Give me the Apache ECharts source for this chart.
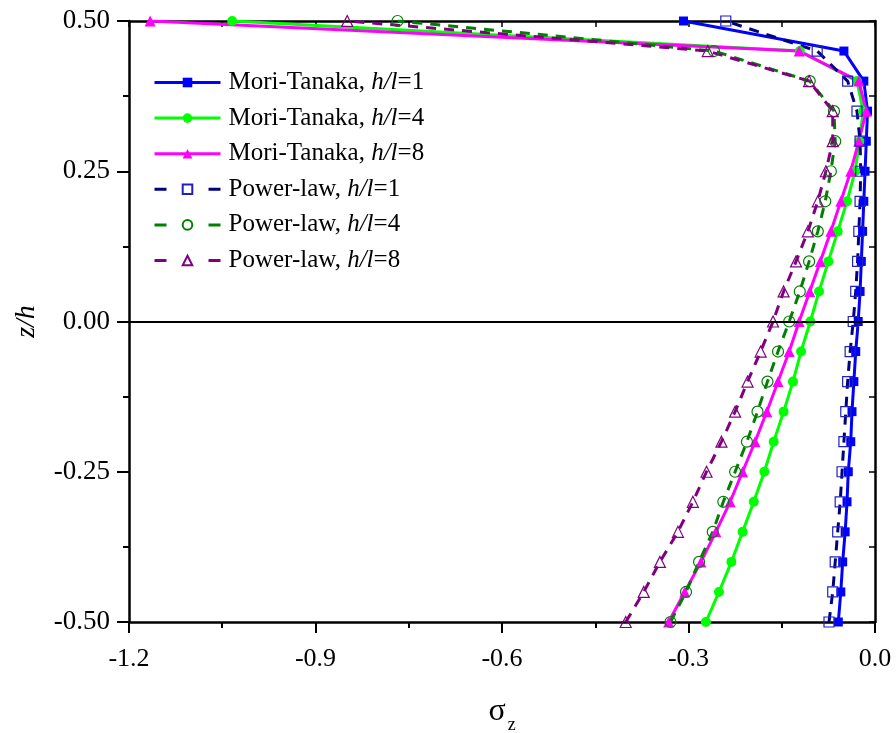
<!DOCTYPE html>
<html>
<head>
<meta charset="utf-8">
<script src="https://cdn.jsdelivr.net/npm/echarts@6/dist/echarts.min.js"></script>
<style>
  html, body { margin: 0; padding: 0; background: #fff; }
  #chart { width: 896px; height: 733px; }
</style>
</head>
<body>
<div id="chart"></div>
<script>
// z/h positions through the thickness
var zh = [-0.50, -0.45, -0.40, -0.35, -0.30, -0.25, -0.20, -0.15, -0.10, -0.05, 0.00,
          0.05, 0.10, 0.15, 0.20, 0.25, 0.30, 0.35, 0.40, 0.45, 0.50];

// sigma_z values
var mt1 = [-0.059, -0.055, -0.052, -0.048, -0.045, -0.043, -0.039, -0.037, -0.034, -0.031, -0.027,
           -0.024, -0.022, -0.020, -0.018, -0.016, -0.014, -0.012, -0.018, -0.050, -0.308];
var mt4 = [-0.272, -0.251, -0.231, -0.213, -0.195, -0.178, -0.163, -0.147, -0.132, -0.119, -0.104,
           -0.090, -0.075, -0.060, -0.045, -0.032, -0.025, -0.019, -0.029, -0.121, -1.034];
var mt8 = [-0.332, -0.306, -0.280, -0.256, -0.233, -0.213, -0.193, -0.174, -0.156, -0.138, -0.122,
           -0.105, -0.088, -0.071, -0.055, -0.039, -0.026, -0.014, -0.026, -0.122, -1.166];
var pl1 = [-0.074, -0.068, -0.064, -0.060, -0.056, -0.053, -0.050, -0.047, -0.044, -0.040, -0.035,
           -0.031, -0.028, -0.026, -0.024, -0.023, -0.024, -0.029, -0.044, -0.093, -0.240];
var pl4 = [-0.329, -0.304, -0.283, -0.261, -0.244, -0.225, -0.206, -0.189, -0.173, -0.156, -0.138,
           -0.121, -0.106, -0.092, -0.080, -0.071, -0.064, -0.066, -0.105, -0.259, -0.768];
var pl8 = [-0.401, -0.372, -0.346, -0.317, -0.293, -0.271, -0.247, -0.225, -0.205, -0.184, -0.164,
           -0.147, -0.127, -0.108, -0.092, -0.079, -0.068, -0.068, -0.106, -0.269, -0.849];

var names = ['Mori-Tanaka, h/l=1', 'Mori-Tanaka, h/l=4', 'Mori-Tanaka, h/l=8',
             'Power-law, h/l=1', 'Power-law, h/l=4', 'Power-law, h/l=8'];

var font = 'Liberation Serif';

function pairs(xs) {
  return xs.map(function (x, i) { return [x, zh[i]]; });
}

function solid(name, xs, color, symbol, size) {
  return {
    name: name, type: 'line', data: pairs(xs),
    symbol: symbol, symbolSize: size,
    lineStyle: { color: color, width: 3 },
    itemStyle: { color: color },
    animation: false
  };
}

function dashed(name, xs, color, markColor, symbol, size) {
  return {
    name: name, type: 'line', data: pairs(xs),
    symbol: symbol, symbolSize: size,
    lineStyle: { color: color, width: 3, type: [10, 8] },
    itemStyle: { color: 'rgba(255,255,255,0)', borderColor: markColor, borderWidth: 1.2 },
    animation: false
  };
}

var series = [
  solid(names[0], mt1, '#0000ff', 'rect', 9),
  solid(names[1], mt4, '#00ff00', 'circle', 10),
  solid(names[2], mt8, '#ff00ff', 'triangle', 11),
  dashed(names[3], pl1, '#000080', '#2020c0', 'rect', 10),
  dashed(names[4], pl4, '#008000', '#008000', 'circle', 11),
  dashed(names[5], pl8, '#800080', '#800080', 'triangle', 11)
];

// horizontal line at z/h = 0
series[0].markLine = {
  silent: true, symbol: 'none', label: { show: false },
  lineStyle: { color: '#000', width: 2, type: 'solid' },
  data: [{ yAxis: 0 }]
};

var chart = echarts.init(document.getElementById('chart'));

var mainX = {
  type: 'value', min: -1.2, max: 0, interval: 0.3, position: 'bottom',
  name: '{s|σ}{b|z}', nameLocation: 'middle', nameGap: 74,
  nameTextStyle: {
    rich: {
      s: { fontFamily: font, fontSize: 32, lineHeight: 34, verticalAlign: 'top', color: '#000' },
      b: { fontFamily: font, fontSize: 18, lineHeight: 18, verticalAlign: 'top', padding: [20, 0, 0, 2], color: '#000' }
    }
  },
  axisLine: { onZero: false, lineStyle: { color: '#000', width: 2.5 } },
  axisTick: { length: 11, lineStyle: { color: '#000', width: 2 } },
  minorTick: { show: true, splitNumber: 2, length: 6, lineStyle: { color: '#000', width: 2 } },
  axisLabel: {
    margin: 24, color: '#000', fontFamily: font, fontSize: 26,
    formatter: function (v) { return v.toFixed(1); }
  },
  splitLine: { show: false }
};

var topX = {
  type: 'value', min: -1.2, max: 0, interval: 0.3, position: 'top',
  axisLine: { onZero: false, lineStyle: { color: '#000', width: 2.5 } },
  axisTick: { inside: true, length: 6, lineStyle: { color: '#000', width: 1.5 } },
  minorTick: { show: true, splitNumber: 2, length: 6, lineStyle: { color: '#000', width: 1.5 } },
  axisLabel: { show: false },
  splitLine: { show: false }
};

var mainY = {
  type: 'value', min: -0.5, max: 0.5, interval: 0.25, position: 'left',
  name: 'z/h', nameLocation: 'middle', nameGap: 88,
  nameTextStyle: { fontFamily: font, fontSize: 28, fontStyle: 'italic', color: '#000' },
  axisLine: { onZero: false, lineStyle: { color: '#000', width: 2.5 } },
  axisTick: { length: 12, lineStyle: { color: '#000', width: 2 } },
  minorTick: { show: true, splitNumber: 2, length: 6, lineStyle: { color: '#000', width: 2 } },
  axisLabel: {
    margin: 19, color: '#000', fontFamily: font, fontSize: 27,
    formatter: function (v) { return v.toFixed(2); }
  },
  splitLine: { show: false }
};

var rightY = {
  type: 'value', min: -0.5, max: 0.5, interval: 0.25, position: 'right',
  axisLine: { onZero: false, lineStyle: { color: '#000', width: 2.5 } },
  axisTick: { inside: true, length: 6, lineStyle: { color: '#000', width: 1.5 } },
  minorTick: { show: true, splitNumber: 2, length: 6, lineStyle: { color: '#000', width: 1.5 } },
  axisLabel: { show: false },
  splitLine: { show: false }
};

chart.setOption({
  backgroundColor: '#fff',
  animation: false,
  grid: { left: 129, right: 21, top: 21, bottom: 111, containLabel: false, outerBoundsMode: 'none' },
  xAxis: [mainX, topX],
  yAxis: [mainY, rightY],
  legend: {
    orient: 'vertical', left: 153, top: 70, padding: 0,
    itemWidth: 66, itemHeight: 12, itemGap: 10.6,
    data: names.map(function (n, i) {
      var item = { name: n, lineStyle: { width: 3 } };
      if (i >= 3) item.lineStyle.type = [12, 42];
      return item;
    }),
    formatter: function (n) { return n.replace('h/l', '{i|h/l}'); },
    textStyle: {
      fontFamily: font, fontSize: 25, color: '#000', padding: [0, 0, 0, 3],
      rich: { i: { fontFamily: font, fontSize: 25, fontStyle: 'italic', color: '#000' } }
    }
  },
  series: series
});
</script>
</body>
</html>
